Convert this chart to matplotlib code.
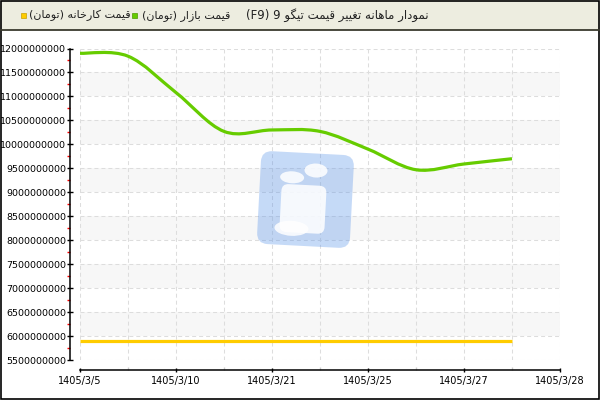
import re
import numpy as np
import matplotlib
matplotlib.use('Agg')
import matplotlib.pyplot as plt
from matplotlib.path import Path
from matplotlib.patches import PathPatch, Rectangle, FancyBboxPatch, Ellipse
from matplotlib.ticker import MultipleLocator, FixedLocator, FuncFormatter
from matplotlib.transforms import Affine2D

plt.rcParams['font.family'] = ['DejaVu Sans']

# data (one point per half category step)
x_labels = ['1405/3/5', '1405/3/10', '1405/3/21', '1405/3/25', '1405/3/27', '1405/3/28']
market_price = [11.90e9, 11.84e9, 11.08e9, 10.27e9, 10.30e9, 10.27e9, 9.90e9, 9.47e9, 9.59e9, 9.70e9]
factory_price = [5.9e9] * 10

title_text = 'نمودار ماهانه تغییر قیمت تیگو 9 (F9)'
market_label = 'قیمت بازار (تومان)'
factory_label = 'قیمت کارخانه (تومان)'

GREEN = '#66CC00'
YELLOW = '#FFCC00'

# minimal persian shaping: isolated, final, initial, medial
FORMS = {
    'ا': ('\uFE8D', '\uFE8E', None, None),
    'ب': ('\uFE8F', '\uFE90', '\uFE91', '\uFE92'),
    'ت': ('\uFE95', '\uFE96', '\uFE97', '\uFE98'),
    'خ': ('\uFEA5', '\uFEA6', '\uFEA7', '\uFEA8'),
    'د': ('\uFEA9', '\uFEAA', None, None),
    'ر': ('\uFEAD', '\uFEAE', None, None),
    'ز': ('\uFEAF', '\uFEB0', None, None),
    'غ': ('\uFECD', '\uFECE', '\uFECF', '\uFED0'),
    'ق': ('\uFED5', '\uFED6', '\uFED7', '\uFED8'),
    'م': ('\uFEE1', '\uFEE2', '\uFEE3', '\uFEE4'),
    'ن': ('\uFEE5', '\uFEE6', '\uFEE7', '\uFEE8'),
    'ه': ('\uFEE9', '\uFEEA', '\uFEEB', '\uFEEC'),
    'و': ('\uFEED', '\uFEEE', None, None),
    'ک': ('\uFB8E', '\uFB8F', '\uFB90', '\uFB91'),
    'گ': ('\uFB92', '\uFB93', '\uFB94', '\uFB95'),
    'ی': ('\uFBFC', '\uFBFD', '\uFBFE', '\uFBFF'),
}


def fa(text):
    out = []
    for i, ch in enumerate(text):
        if ch not in FORMS:
            out.append(ch)
            continue
        prev = text[i - 1] if i > 0 else ''
        nxt = text[i + 1] if i + 1 < len(text) else ''
        join_prev = prev in FORMS and FORMS[prev][2] is not None
        join_next = FORMS[ch][2] is not None and nxt in FORMS
        iso, fin, ini, med = FORMS[ch]
        if join_prev and join_next:
            out.append(med)
        elif join_prev:
            out.append(fin)
        elif join_next:
            out.append(ini)
        else:
            out.append(iso)
    s = ''.join(out)[::-1]
    s = s.translate(str.maketrans('()', ')('))
    s = re.sub(r'[A-Za-z0-9]+', lambda m: m.group(0)[::-1], s)
    return s


def smooth_path(xs, ys):
    pts = list(zip(xs, ys))
    verts = [pts[0]]
    codes = [Path.MOVETO]
    n = len(pts)
    for i in range(n - 1):
        p0 = pts[max(i - 1, 0)]
        p1 = pts[i]
        p2 = pts[i + 1]
        p3 = pts[min(i + 2, n - 1)]
        c1 = (p1[0] + (p2[0] - p0[0]) / 6, p1[1] + (p2[1] - p0[1]) / 6)
        c2 = (p2[0] - (p3[0] - p1[0]) / 6, p2[1] - (p3[1] - p1[1]) / 6)
        verts += [c1, c2, p2]
        codes += [Path.CURVE4] * 3
    return Path(verts, codes)


fig = plt.figure(figsize=(6, 4), dpi=100)
fig.patch.set_facecolor('white')
ax = fig.add_axes([80 / 600, 40 / 400, 480 / 600, 311.5 / 400])

x = np.arange(len(market_price)) * 0.5
ax.set_xlim(0, len(x_labels) - 1)
ax.set_ylim(5.5e9, 12e9)

# alternate bands
for lo in np.arange(6.0e9, 12e9, 1.0e9):
    ax.axhspan(lo, lo + 0.5e9, color='#F7F7F7', zorder=0, lw=0)

ax.plot(x, factory_price, color=YELLOW, lw=2.3, solid_capstyle='butt', zorder=3)
ax.add_patch(PathPatch(smooth_path(x, market_price), fill=False, edgecolor=GREEN,
                       lw=2.3, capstyle='butt', zorder=4))

for side in ['top', 'right']:
    ax.spines[side].set_visible(False)
ax.spines['left'].set_position(('outward', 7.2))
ax.spines['bottom'].set_position(('outward', 7.5))
ax.spines['left'].set_linewidth(1.1)
ax.spines['bottom'].set_linewidth(1.1)

ax.yaxis.set_major_locator(MultipleLocator(0.5e9))
ax.yaxis.set_minor_locator(MultipleLocator(0.25e9))
ax.yaxis.set_major_formatter(FuncFormatter(lambda v, p: f'{v:.0f}'))
ax.xaxis.set_major_locator(FixedLocator(range(len(x_labels))))
ax.xaxis.set_minor_locator(MultipleLocator(0.5))
ax.set_xticklabels(x_labels)

ax.tick_params(axis='y', which='major', direction='inout', length=4, width=1,
               pad=0.8, labelsize=6.8, colors='black')
ax.tick_params(axis='y', which='minor', direction='out', length=2.2, width=1, color='red')
ax.tick_params(axis='x', which='major', direction='inout', length=3, width=1,
               pad=2.5, labelsize=7, colors='black')
ax.tick_params(axis='x', which='minor', direction='in', length=2.5, width=1, color='#cccccc')

ax.set_axisbelow(True)
ax.grid(axis='y', which='major', color='#DDDDDD', lw=0.75, linestyle=(0, (3.8, 2.9)))
ax.grid(axis='x', which='both', color='#DDDDDD', lw=0.75, linestyle=(0, (3.8, 2.9)))

# overlay in pixel coordinates for header, border and watermark
ov = fig.add_axes([0, 0, 1, 1], zorder=10)
ov.set_xlim(0, 600)
ov.set_ylim(400, 0)
ov.axis('off')
ov.patch.set_alpha(0)

ov.add_patch(Rectangle((0, 0), 600, 30, facecolor='#EDEDE0', edgecolor='none'))
ov.plot([0, 600], [29.8, 29.8], color='#3A3A2E', lw=1.3)
ov.add_patch(Rectangle((0.5, 0.5), 598, 398.5, fill=False, edgecolor='black', lw=1.2))

ov.add_patch(Rectangle((21, 13), 5, 5, facecolor=YELLOW, edgecolor='#C8A000', lw=0.5))
ov.text(29, 15.5, fa(factory_label), fontsize=8, ha='left', va='center', color='#222222')
ov.add_patch(Rectangle((132, 13), 5, 5, facecolor=GREEN, edgecolor='#4C9A00', lw=0.5))
ov.text(142, 15.5, fa(market_label), fontsize=8, ha='left', va='center', color='#222222')
ov.text(429, 15.5, fa(title_text), fontsize=8.5, ha='right', va='center', color='#222222')

# watermark logo
rot = Affine2D().rotate_deg_around(305, 199, 3) + ov.transData
ov.add_patch(FancyBboxPatch((259, 153), 93, 93, boxstyle='round,pad=0,rounding_size=11',
                            facecolor='#5B95EA', edgecolor='none', alpha=0.35, transform=rot))
for shp in [
    Ellipse((291, 178), 24, 12),
    Ellipse((314.5, 170), 23, 14),
    FancyBboxPatch((281, 185), 45, 48, boxstyle='round,pad=0,rounding_size=7'),
    Ellipse((293, 229), 34, 15),
]:
    shp.set_facecolor('white')
    shp.set_edgecolor('none')
    shp.set_alpha(0.85)
    shp.set_transform(rot)
    ov.add_patch(shp)

fig.savefig('out.png', dpi=100)
